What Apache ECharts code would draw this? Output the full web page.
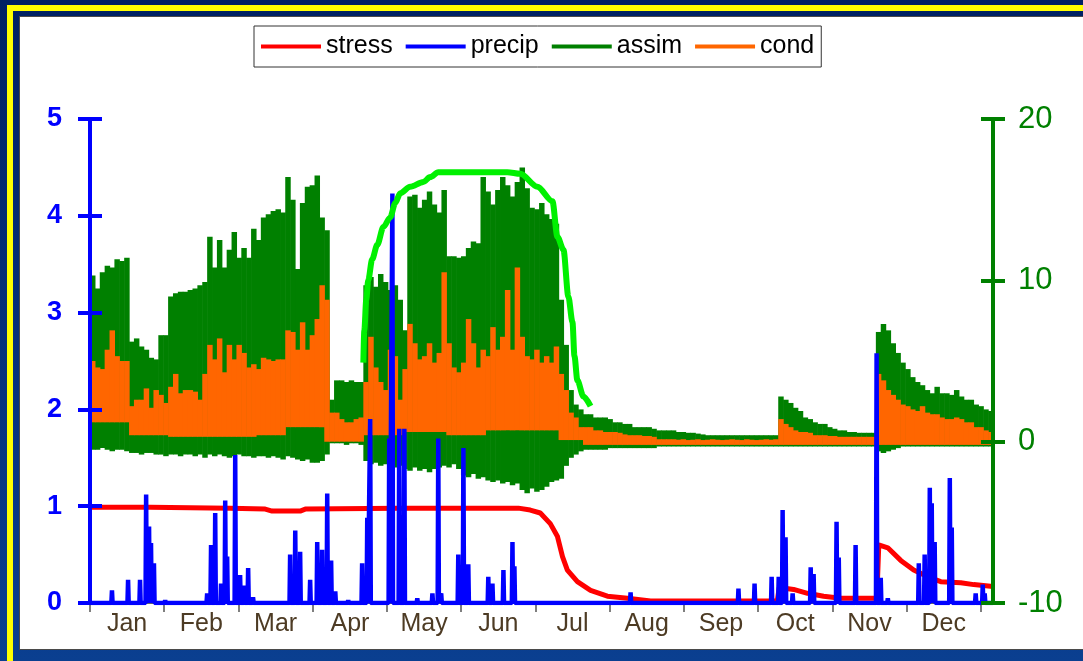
<!DOCTYPE html>
<html>
<head>
<meta charset="utf-8">
<script src="https://cdn.jsdelivr.net/npm/echarts@6/dist/echarts.min.js"></script>
<style>
  html, body { margin: 0; padding: 0; }
  body { width: 1083px; height: 661px; overflow: hidden; position: relative;
         background: linear-gradient(#002163, #0a3f90); }
  #stripe { position: absolute; left: 7px; top: 5px; width: 1200px; height: 800px;
            border: 6px solid #ffff00; box-sizing: border-box; }
  #panel { position: absolute; left: 19px; top: 16px; width: 1100px; height: 634px;
           background: #ffffff; border: 1px solid #4a4a4a; box-sizing: border-box; }
  #chart { position: absolute; left: 0; top: 0; width: 1083px; height: 661px; }
</style>
</head>
<body>
<div id="stripe"></div>
<div id="panel"></div>
<div id="chart"></div>
<script>
// ---- axis labels ----
const monthNames = ['Jan','Feb','Mar','Apr','May','Jun','Jul','Aug','Sep','Oct','Nov','Dec'];
const monthEdges = [0, 30.4, 60.8, 91.3, 121.7, 152.1, 182.5, 212.9, 243.3, 273.8, 304.2, 334.6, 365];

// ---- assimilation and conductance: daytime high / night low per 2-day step (right axis) ----
const binDays = 2;
const assimHi = [
  10.3, 9.5, 10.5, 10.9, 10.8, 11.3, 11.2, 11.4, 6.2, 6.4,
  5.9, 5.7, 5.2, 5.1, 6.6, 6.6, 9.0, 9.2, 9.3, 9.3,
  9.4, 9.5, 9.7, 9.9, 12.7, 10.8, 12.5, 10.8, 11.9, 13.0,
  11.4, 12.0, 11.4, 13.2, 12.5, 13.9, 14.1, 14.3, 14.4, 14.2,
  16.4, 15.0, 10.7, 14.8, 15.8, 15.9, 16.5, 13.9, 13.1, 2.6,
  3.8, 3.8, 3.7, 3.8, 3.7, 3.7, 9.7, 10.2, 9.6, 10.4,
  9.9, 9.4, 9.7, 8.8, 6.9, 15.2, 15.3, 14.5, 15.0, 15.5,
  14.7, 14.2, 15.6, 11.5, 11.5, 11.4, 11.5, 12.0, 12.4, 12.3,
  16.4, 15.5, 14.7, 15.6, 16.4, 15.9, 15.2, 16.1, 17.0, 15.7,
  14.5, 14.4, 14.8, 14.1, 13.8, 13.5, 8.8, 6.0, 3.2, 2.3,
  2.0, 1.7, 1.7, 1.5, 1.5, 1.5, 1.4, 1.2, 1.2, 1.1,
  1.1, 0.9, 0.9, 0.9, 0.9, 0.8, 0.7, 0.7, 0.7, 0.7,
  0.6, 0.6, 0.55, 0.55, 0.5, 0.45, 0.4, 0.4, 0.4, 0.4,
  0.4, 0.4, 0.4, 0.4, 0.4, 0.4, 0.4, 0.4, 0.4, 0.4,
  0.4, 2.8, 2.6, 2.4, 2.1, 1.9, 1.5, 1.4, 1.2, 1.1,
  1.1, 0.9, 0.8, 0.7, 0.7, 0.6, 0.6, 0.55, 0.55, 0.55,
  0.55, 6.8, 7.3, 6.9, 6.1, 5.5, 4.9, 4.5, 4.0, 3.7,
  3.5, 3.2, 3.0, 3.4, 3.0, 3.0, 2.9, 3.2, 2.8, 2.6,
  2.6, 2.3, 2.2, 2.0, 1.9
];
const assimLo = [
  -0.5, -0.5, -0.4, -0.5, -0.6, -0.5, -0.5, -0.6, -0.7, -0.7,
  -0.8, -0.7, -0.7, -0.8, -0.8, -0.9, -0.8, -0.8, -0.9, -0.8,
  -0.8, -0.9, -0.8, -1.0, -0.8, -0.9, -0.8, -0.9, -1.0, -0.9,
  -0.8, -0.9, -0.9, -1.0, -0.9, -0.9, -1.0, -0.9, -1.0, -1.1,
  -0.9, -1.0, -1.1, -1.2, -1.1, -1.3, -1.3, -1.2, -0.8, -0.1,
  -0.1, -0.1, -0.2, -0.1, -0.1, -0.2, -1.2, -1.4, -1.3, -1.5,
  -1.4, -1.5, -1.6, -1.5, -1.7, -1.8, -1.6, -1.8, -1.7, -1.9,
  -1.7, -1.6, -1.5, -1.6, -1.4, -1.7, -2.1, -2.2, -2.0, -2.3,
  -2.2, -2.4, -2.5, -2.4, -2.6, -2.5, -2.7, -2.6, -3.0, -3.2,
  -2.9, -3.1, -3.0, -2.8, -2.5, -2.4, -2.3, -1.5, -1.0, -0.8,
  -0.6, -0.5, -0.5, -0.5, -0.5, -0.5, -0.4, -0.4, -0.4, -0.4,
  -0.4, -0.4, -0.4, -0.4, -0.4, -0.4, -0.3, -0.3, -0.3, -0.3,
  -0.3, -0.3, -0.3, -0.3, -0.3, -0.3, -0.3, -0.3, -0.3, -0.3,
  -0.3, -0.3, -0.3, -0.3, -0.3, -0.3, -0.3, -0.3, -0.3, -0.3,
  -0.3, -0.3, -0.3, -0.3, -0.3, -0.3, -0.3, -0.3, -0.3, -0.3,
  -0.3, -0.3, -0.3, -0.3, -0.3, -0.3, -0.3, -0.3, -0.3, -0.3,
  -0.3, -0.6, -0.7, -0.6, -0.5, -0.4, -0.3, -0.3, -0.3, -0.3,
  -0.3, -0.3, -0.3, -0.3, -0.3, -0.3, -0.3, -0.3, -0.3, -0.3,
  -0.3, -0.3, -0.3, -0.3, -0.3
];
const condHi = [
  5.0, 4.6, 4.5, 5.7, 6.9, 5.3, 5.0, 5.0, 2.2, 2.6,
  2.6, 3.3, 2.1, 3.2, 2.9, 2.4, 3.4, 4.2, 3.0, 3.2,
  3.2, 3.1, 2.6, 4.2, 6.0, 5.1, 6.4, 4.3, 6.0, 5.1,
  6.0, 5.5, 4.6, 4.8, 4.5, 5.2, 5.1, 5.0, 5.1, 5.1,
  6.9, 6.8, 5.7, 7.4, 5.7, 6.6, 7.6, 9.7, 8.8, 1.8,
  1.8, 1.4, 1.2, 1.2, 1.4, 1.5, 3.7, 6.5, 4.6, 3.7,
  3.2, 5.7, 5.3, 2.6, 4.5, 7.3, 6.1, 5.1, 5.3, 6.1,
  4.9, 5.5, 10.5, 6.1, 4.6, 4.3, 4.9, 7.6, 6.1, 4.6,
  5.7, 5.3, 7.1, 5.7, 6.5, 9.4, 5.7, 10.8, 6.5, 5.3,
  5.1, 5.7, 4.9, 5.3, 4.9, 5.9, 4.2, 3.2, 1.8, 1.5,
  0.9, 0.9, 0.9, 0.7, 0.7, 0.6, 0.6, 0.6, 0.55, 0.45,
  0.4, 0.4, 0.4, 0.35, 0.35, 0.3, 0.15, 0.15, 0.15, 0.15,
  0.12, 0.15, 0.1, 0.12, 0.15, 0.1, 0.12, 0.15, 0.12, 0.1,
  0.12, 0.15, 0.12, 0.1, 0.15, 0.12, 0.1, 0.12, 0.15, 0.12,
  0.15, 1.4, 1.1, 0.9, 0.7, 0.6, 0.6, 0.55, 0.4, 0.4,
  0.4, 0.35, 0.35, 0.3, 0.3, 0.3, 0.3, 0.3, 0.3, 0.3,
  0.3, 4.2, 3.8, 3.2, 2.9, 2.6, 2.3, 2.2, 2.0, 1.9,
  2.2, 1.8, 1.7, 1.7, 1.5, 1.4, 1.4, 1.5, 1.4, 1.2,
  1.2, 0.9, 0.9, 0.7, 0.6
];
const condLo = [
  1.2, 1.2, 1.2, 1.2, 1.2, 1.2, 1.2, 1.2, 0.4, 0.4,
  0.4, 0.4, 0.4, 0.4, 0.4, 0.4, 0.3, 0.3, 0.3, 0.3,
  0.3, 0.3, 0.3, 0.3, 0.3, 0.3, 0.3, 0.3, 0.3, 0.3,
  0.3, 0.3, 0.3, 0.3, 0.4, 0.4, 0.4, 0.4, 0.4, 0.4,
  0.9, 0.9, 0.9, 0.9, 0.9, 0.9, 0.9, 0.9, 0.0, 0.0,
  0.0, 0.0, 0.0, 0.0, 0.0, 0.0, 0.4, 0.4, 0.4, 0.4,
  0.4, 0.4, 0.4, 0.4, 0.6, 0.6, 0.6, 0.6, 0.6, 0.6,
  0.6, 0.6, 0.6, 0.4, 0.4, 0.4, 0.4, 0.4, 0.4, 0.4,
  0.4, 0.7, 0.7, 0.7, 0.7, 0.7, 0.7, 0.7, 0.7, 0.7,
  0.7, 0.7, 0.7, 0.7, 0.7, 0.7, 0.1, 0.1, 0.1, 0.1,
  0.1, -0.2, -0.2, -0.2, -0.2, -0.2, -0.2, -0.2, -0.2, -0.2,
  -0.2, -0.2, -0.2, -0.2, -0.2, -0.2, -0.2, -0.2, -0.2, -0.2,
  -0.2, -0.2, -0.2, -0.2, -0.2, -0.2, -0.2, -0.2, -0.2, -0.2,
  -0.2, -0.2, -0.2, -0.2, -0.2, -0.2, -0.2, -0.2, -0.2, -0.2,
  -0.2, -0.2, -0.2, -0.2, -0.2, -0.2, -0.2, -0.2, -0.2, -0.2,
  -0.2, -0.2, -0.2, -0.2, -0.2, -0.2, -0.2, -0.2, -0.2, -0.2,
  -0.2, -0.2, -0.2, -0.2, -0.2, -0.2, -0.2, -0.2, -0.2, -0.2,
  -0.2, -0.2, -0.2, -0.2, -0.2, -0.2, -0.2, -0.2, -0.2, -0.2,
  -0.2, -0.2, -0.2, -0.2, -0.2
];

// ---- daily maximum assimilation envelope during the growing season (right axis) ----
const envDay = [112.0, 112.4, 113.2, 114.0, 115.6, 117.7, 120.2, 123.0, 125.1, 127.1, 131.2, 136.6, 139.4,
                142.7, 153.0, 171.0, 176.3, 183.3, 189.5, 191.5, 194.0, 196.0, 197.7, 198.5, 199.7, 202.2, 205.1];
const envVal = [4.9, 6.9, 8.8, 10.0, 11.3, 12.2, 13.3, 13.9, 14.8, 15.4, 15.8, 16.1, 16.4,
                16.7, 16.7, 16.7, 16.6, 15.8, 14.9, 12.7, 11.9, 9.0, 7.4, 5.3, 3.8, 2.8, 2.2];

// ---- water stress index (left axis) ----
const stressDay = [0, 24.6, 57.4, 71.8, 74.6, 86.1, 88.2, 127.1, 175.5, 180.4,
                   184.5, 188.6, 191.5, 193.6, 195.6, 199.7, 205.1, 212.0, 220.2, 229.7,
                   281.6, 282.4, 288.3, 294.0, 300.6, 307.6, 319.9, 322.4, 323.2, 326.9,
                   332.2, 337.5, 343.3, 348.6, 356.8, 362.1, 370];
const stressVal = [0.99, 0.99, 0.98, 0.97, 0.95, 0.95, 0.97, 0.98, 0.98, 0.96,
                   0.93, 0.82, 0.69, 0.48, 0.34, 0.22, 0.13, 0.07, 0.05, 0.02,
                   0.02, 0.16, 0.14, 0.10, 0.07, 0.05, 0.05, 0.05, 0.60, 0.57,
                   0.44, 0.34, 0.27, 0.22, 0.21, 0.19, 0.17];

// ---- precipitation events (left axis) ----
const precipDay = [9.0, 15.6, 20.5, 23.0, 24.2, 25.0, 26.2, 30.8, 34.9, 44.3,
                   48.0, 49.6, 51.3, 53.7, 55.4, 56.2, 59.5, 61.5, 63.2, 64.8,
                   66.8, 82.0, 84.1, 86.1, 90.2, 93.1, 95.1, 97.2, 98.8, 100.5,
                   105.8, 111.5, 113.6, 114.8, 122.6, 123.9, 126.7, 128.8, 134.1, 140.3,
                   142.7, 143.9, 150.9, 153.0, 155.0, 163.2, 164.9, 169.4, 173.1, 173.9,
                   221.5, 252.2, 265.7, 272.3, 279.3, 282.2, 283.8, 285.0, 287.9, 295.3,
                   296.5, 305.9, 306.8, 313.7, 322.3, 324.0, 326.9, 339.6, 342.0, 344.1,
                   344.9, 346.1, 352.3, 353.1, 362.9, 365.8, 366.6];
const precipVal = [0.13, 0.24, 0.24, 1.12, 0.79, 0.62, 0.41, 0.03, 0.02, 0.02,
                   0.10, 0.60, 0.93, 0.20, 1.06, 0.48, 1.53, 0.29, 0.18, 0.36,
                   0.06, 0.50, 0.75, 0.53, 0.24, 0.63, 0.55, 1.13, 0.44, 0.12,
                   0.03, 0.41, 0.88, 1.90, 1.70, 4.23, 1.80, 1.80, 0.05, 0.10,
                   1.70, 0.10, 0.50, 1.60, 0.40, 0.27, 0.20, 0.34, 0.63, 0.38,
                   0.11, 0.02, 0.15, 0.20, 0.27, 0.27, 0.96, 0.68, 0.10, 0.37,
                   0.30, 0.84, 0.47, 0.60, 2.58, 0.26, 0.05, 0.41, 0.50, 1.19,
                   1.03, 0.63, 1.29, 0.78, 0.10, 0.19, 0.10];

// ---- build series data ----
const FONT = '"Liberation Sans", Arial, sans-serif';
const X_MAX = 370;
const monthMid = monthNames.map((m, i) => (monthEdges[i] + monthEdges[i + 1]) / 2);

const bandData = (hi, lo) => hi.map((h, i) => [i * binDays + binDays / 2, lo[i], h]);

// precipitation drawn as a line that returns to zero around each event
const precipData = [[0, 0]];
precipDay.forEach((d, i) => {
  precipData.push([d - 0.25, 0], [d, precipVal[i]], [d + 0.25, 0]);
});
precipData.push([X_MAX, 0]);

const stressData = stressDay.map((d, i) => [d, stressVal[i]]);
const envData = envDay.map((d, i) => [d, envVal[i]]);

function bandRenderer(color) {
  return function (params, api) {
    const x = api.value(0);
    const a = api.coord([x - binDays / 2, api.value(2)]);
    const b = api.coord([x + binDays / 2, api.value(1)]);
    return {
      type: 'rect',
      shape: { x: a[0], y: a[1], width: b[0] - a[0] + 0.6, height: b[1] - a[1] },
      style: { fill: color }
    };
  };
}

function valueAxis(opts) {
  return Object.assign({
    type: 'value',
    z: 10,
    splitLine: { show: false },
    axisLine: { show: true, onZero: false, lineStyle: { color: opts.color, width: 4 } },
    axisTick: { show: true, inside: opts.inside, length: 12, lineStyle: { color: opts.color, width: 4 } }
  }, opts.extra);
}

const chart = echarts.init(document.getElementById('chart'), null, { renderer: 'canvas' });
chart.setOption({
  animation: false,
  backgroundColor: 'transparent',
  textStyle: { fontFamily: FONT },
  grid: { left: 90, right: 90, top: 119, bottom: 58, containLabel: false },
  legend: {
    data: ['stress', 'precip', 'assim', 'cond'],
    left: 254, top: 26,
    padding: [8, 7],
    itemGap: 13,
    itemWidth: 60, itemHeight: 4,
    icon: 'rect',
    borderColor: '#333', borderWidth: 1,
    backgroundColor: '#fff',
    textStyle: { fontSize: 25, color: '#000', fontFamily: FONT }
  },
  xAxis: {
    type: 'value', min: 0, max: X_MAX,
    splitLine: { show: false },
    axisLine: { show: true, onZero: false, lineStyle: { color: '#666', width: 1 } },
    axisTick: { show: true, customValues: monthEdges, length: 9, lineStyle: { color: '#555', width: 1.5 } },
    axisLabel: {
      customValues: monthMid,
      formatter: v => {
        let best = 0;
        monthMid.forEach((m, i) => { if (Math.abs(m - v) < Math.abs(monthMid[best] - v)) best = i; });
        return monthNames[best];
      },
      fontSize: 25, color: '#4d3b24', margin: 9, fontFamily: FONT
    }
  },
  yAxis: [
    valueAxis({ color: '#0000ff', inside: false, extra: {
      position: 'left', min: 0, max: 5, interval: 1,
      axisLabel: { color: '#0000ff', fontSize: 27, fontWeight: 'bold', margin: 28, fontFamily: FONT } } }),
    valueAxis({ color: '#0000ff', inside: true, extra: {
      position: 'left', min: 0, max: 5, interval: 1, axisLabel: { show: false } } }),
    valueAxis({ color: '#008000', inside: false, extra: {
      position: 'right', min: -10, max: 20, interval: 10,
      axisLabel: { color: '#008000', fontSize: 31, margin: 25, fontFamily: FONT } } }),
    valueAxis({ color: '#008000', inside: true, extra: {
      position: 'right', min: -10, max: 20, interval: 10, axisLabel: { show: false } } })
  ],
  series: [
    {
      name: 'stress', type: 'line', yAxisIndex: 0, data: stressData,
      color: '#ff0000', showSymbol: false, lineStyle: { color: '#ff0000', width: 5 }
    },
    {
      name: 'precip', type: 'line', yAxisIndex: 0, data: precipData,
      color: '#0000ff', showSymbol: false, lineStyle: { color: '#0000ff', width: 4.5 }
    },
    {
      name: 'assim', type: 'custom', yAxisIndex: 2, data: bandData(assimHi, assimLo),
      encode: { x: 0, y: [1, 2] }, itemStyle: { color: '#008000' },
      renderItem: bandRenderer('#008000')
    },
    {
      name: 'cond', type: 'custom', yAxisIndex: 2, data: bandData(condHi, condLo),
      encode: { x: 0, y: [1, 2] }, itemStyle: { color: '#ff6600' },
      renderItem: bandRenderer('#ff6600')
    },
    {
      name: 'assimEnvelope', type: 'line', yAxisIndex: 2, data: envData,
      color: '#00f000', showSymbol: false, smooth: 0.3, smoothMonotone: 'x',
      lineStyle: { color: '#00f000', width: 6 }
    }
  ]
});
</script>
</body>
</html>
